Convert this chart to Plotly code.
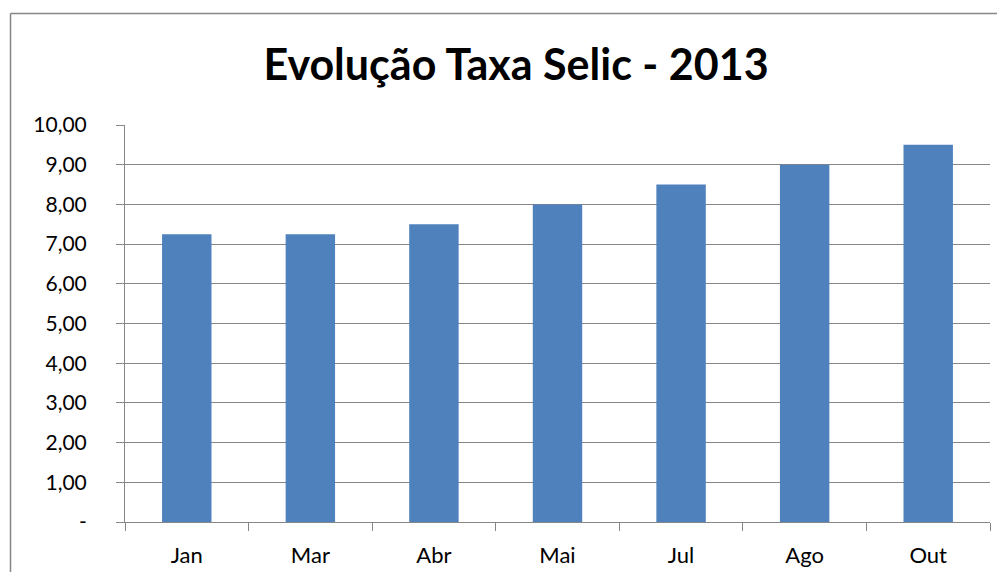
import plotly.graph_objects as go

meses = ["Jan", "Mar", "Abr", "Mai", "Jul", "Ago", "Out"]
selic = [7.25, 7.25, 7.50, 8.00, 8.50, 9.00, 9.50]
y_ticks = [0, 1, 2, 3, 4, 5, 6, 7, 8, 9, 10]
y_tick_text = ["-", "1,00", "2,00", "3,00", "4,00", "5,00", "6,00", "7,00", "8,00", "9,00", "10,00"]

OFF = 8  # page body margin
W, H = 1005 - 2 * OFF, 580 - 2 * OFF
L, T = 125 - OFF, 125 - OFF
pw, ph = 865, 397
R, B = W - L - pw, H - T - ph

def px_x(p):
    return (p - OFF - L) / pw

def px_y(p):
    return (T + ph - (p - OFF)) / ph

grid = "#868686"
font = "Lato, 'Open Sans', sans-serif"

fig = go.Figure(go.Bar(x=meses, y=selic, marker=dict(color="#4F81BD", line=dict(width=0)),
                       hoverinfo="x+y"))

border = dict(color=grid, width=1.5)
fig.update_layout(
    width=W, height=H,
    margin=dict(l=L, r=R, t=T, b=B),
    paper_bgcolor="white", plot_bgcolor="white",
    bargap=0.60,
    showlegend=False,
    font=dict(family=font, color="black", size=22),
    title=dict(text="<b>Evolução Taxa Selic - 2013</b>", x=px_x(516), xref="paper", xanchor="center",
               y=1 - (65 - OFF) / H, yanchor="middle", font=dict(family=font, size=43, color="black")),
    xaxis=dict(
        showgrid=False, showline=True, linecolor=grid, linewidth=1,
        ticks="outside", ticklen=8, tickcolor=grid, tickwidth=1, tickson="boundaries",
        tickfont=dict(size=22), ticklabelstandoff=14, automargin=False,
    ),
    yaxis=dict(
        range=[0, 10], tickvals=y_ticks, ticktext=y_tick_text,
        showgrid=True, gridcolor=grid, gridwidth=1,
        showline=True, linecolor=grid, linewidth=1,
        ticks="outside", ticklen=8, tickcolor=grid, tickwidth=1,
        tickfont=dict(size=21), ticklabelstandoff=25, zeroline=False, automargin=False,
    ),
    shapes=[
        dict(type="line", xref="paper", yref="paper",
             x0=px_x(10.5), x1=px_x(997), y0=px_y(13.5), y1=px_y(13.5), line=border, layer="below"),
        dict(type="line", xref="paper", yref="paper",
             x0=px_x(10.5), x1=px_x(10.5), y0=px_y(13.5), y1=px_y(572), line=border, layer="below"),
    ],
)

fig.write_html("out.html")
